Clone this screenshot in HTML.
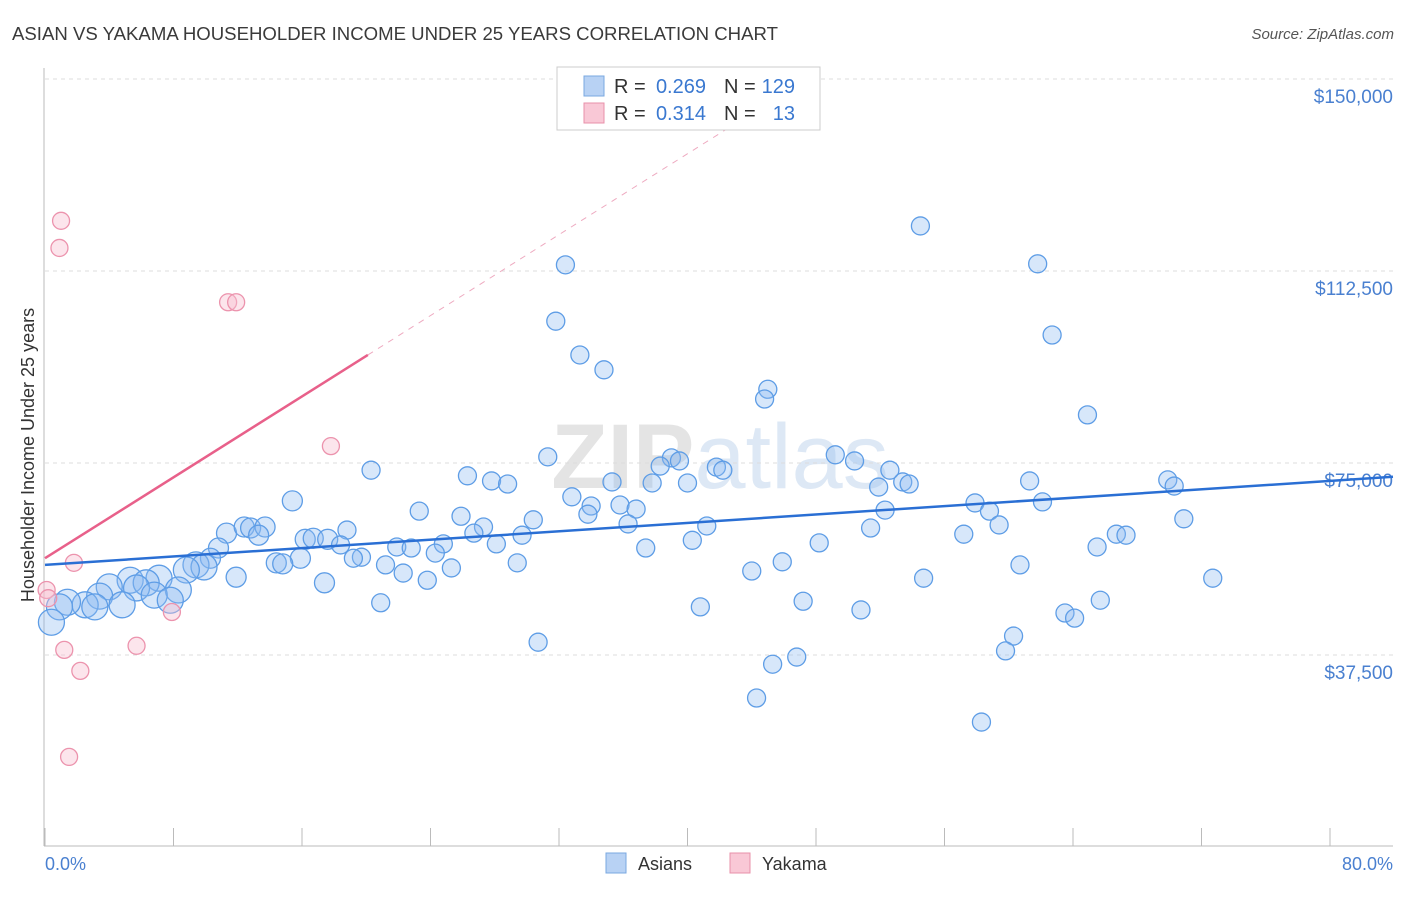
<!DOCTYPE html>
<html><head><meta charset="utf-8">
<style>
html,body{margin:0;padding:0;background:#fff;}
body{width:1406px;height:892px;overflow:hidden;font-family:"Liberation Sans",sans-serif;}
svg text{font-family:"Liberation Sans",sans-serif;}
</style></head>
<body>
<svg id="chart" width="1406" height="892" viewBox="0 0 1406 892">
<text x="12" y="40" font-size="18.6" fill="#3a3a3a">ASIAN VS YAKAMA HOUSEHOLDER INCOME UNDER 25 YEARS CORRELATION CHART</text>
<text x="1394" y="39" font-size="15" fill="#555" font-style="italic" text-anchor="end">Source: ZipAtlas.com</text>
<text x="720" y="488" font-size="92" fill="#e4e4e4" text-anchor="middle" font-weight="bold">ZIP<tspan fill="#dde8f5" font-weight="normal">atlas</tspan></text>
<g id="grid"></g>
<g id="marks"></g>
<g id="lines"></g>
<text transform="translate(34,455) rotate(-90)" font-size="18" fill="#333" text-anchor="middle">Householder Income Under 25 years</text>
<text x="45" y="870" font-size="18" fill="#4a80d0">0.0%</text>
<text x="1393" y="870" font-size="18" fill="#4a80d0" text-anchor="end">80.0%</text>
<g>
<rect x="557" y="67" width="263" height="63" fill="#fff" stroke="#ccc"/>
<rect x="584" y="76" width="20" height="20" fill="#b8d2f4" stroke="#7aa8e0"/>
<text x="614" y="93" font-size="20" fill="#333">R =</text>
<text x="706" y="93" font-size="20" fill="#3a78d0" text-anchor="end">0.269</text>
<text x="724" y="93" font-size="20" fill="#333">N =</text>
<text x="795" y="93" font-size="20" fill="#3a78d0" text-anchor="end">129</text>
<rect x="584" y="103" width="20" height="20" fill="#f9c8d6" stroke="#e890aa"/>
<text x="614" y="120" font-size="20" fill="#333">R =</text>
<text x="706" y="120" font-size="20" fill="#3a78d0" text-anchor="end">0.314</text>
<text x="724" y="120" font-size="20" fill="#333">N =</text>
<text x="795" y="120" font-size="20" fill="#3a78d0" text-anchor="end">13</text>
</g>
<g>
<rect x="606" y="853" width="20" height="20" fill="#b8d2f4" stroke="#7aa8e0"/>
<text x="638" y="870" font-size="18" fill="#333">Asians</text>
<rect x="730" y="853" width="20" height="20" fill="#f9c8d6" stroke="#e890aa"/>
<text x="762" y="870" font-size="18" fill="#333">Yakama</text>
</g>
</svg>
<script>
const yTicks=[37500,75000,112500,150000];
const yTickLabels=["$37,500","$75,000","$112,500","$150,000"];
const xTicks=[0,8,16,24,32,40,48,56,64,72,80];
const asianX=[32.4,54.5,61.8,31.8,62.7,33.3,34.8,45.0,44.8,64.9,31.3,49.2,50.4,20.3,26.3,39.0,39.5,38.3,41.8,42.2,52.6,27.8,28.8,35.3,37.8,40.0,51.9,53.4,53.8,61.3,69.9,70.3,15.4,32.8,57.9,62.1,23.3,34.0,35.8,36.8,33.8,52.3,58.8,25.9,30.4,36.3,41.2,59.4,70.9,27.3,26.7,18.8,51.4,11.3,12.4,12.8,13.7,13.3,16.2,16.7,17.6,29.7,40.3,48.2,57.2,66.7,67.3,18.4,24.8,28.1,21.9,22.8,37.4,65.5,10.8,10.3,24.3,19.7,19.2,15.9,14.4,14.8,9.4,9.9,21.2,29.4,25.3,45.9,60.7,44.0,22.3,8.8,11.9,54.7,72.7,23.8,7.1,5.3,6.3,17.4,4.0,5.7,8.3,6.8,3.4,20.9,47.2,65.7,40.8,50.8,63.5,64.1,7.8,4.8,2.5,1.4,3.1,0.9,0.4,30.7,60.3,59.8,46.8,45.3,44.3,58.3];
const asianY=[113.7,121.3,113.9,102.7,100.0,96.1,93.2,89.4,87.5,84.4,76.2,76.6,75.4,73.6,72.5,76.0,75.4,74.4,74.2,73.6,73.6,71.5,70.9,71.3,71.1,71.1,70.3,71.3,70.9,71.5,71.7,70.5,67.6,68.4,67.2,67.4,65.6,66.6,66.8,66.0,65.0,65.8,65.6,64.6,63.9,63.1,62.7,62.9,64.1,62.5,61.3,61.9,62.3,61.3,62.5,62.3,62.5,60.9,60.1,60.3,60.1,60.9,59.9,59.4,61.1,61.1,60.9,59.0,59.2,59.2,58.6,58.4,58.4,58.6,58.4,56.4,57.4,56.6,56.4,56.4,55.5,55.3,55.1,54.7,55.1,55.5,54.5,55.7,55.1,53.9,53.5,54.1,52.7,52.5,52.5,52.1,52.5,52.1,51.6,51.6,50.8,50.6,50.2,49.2,49.0,47.7,48.0,48.2,46.9,46.3,45.7,44.7,48.2,47.3,47.3,47.8,46.9,46.9,43.9,40.0,41.2,38.3,37.1,35.7,29.1,24.4];
const yakX=[1.0,0.9,11.4,11.9,17.8,1.8,0.1,0.2,7.9,5.7,1.2,2.2,1.5];
const yakY=[122.3,117.0,106.4,106.4,78.3,55.5,50.2,48.6,45.9,39.3,38.5,34.4,17.6];
const asianTrend=[55.1,71.5];
const yakTrend=[56.4,1.975];
const NS="http://www.w3.org/2000/svg";
const xs=v=>45+v/80*1285;
const ys=k=>847-k*1000/37500*192;
function mk(tag,attrs,parent){const e=document.createElementNS(NS,tag);for(const k in attrs)e.setAttribute(k,attrs[k]);parent.appendChild(e);return e;}
const gridG=document.getElementById('grid'),marksG=document.getElementById('marks'),linesG=document.getElementById('lines');
yTicks.forEach((t,i)=>{
 const y=ys(t/1000);
 const l=mk('line',{x1:45,x2:1393,y1:y,y2:y,stroke:'#ddd','stroke-dasharray':'4,4'},gridG);
 
 
 const tx=mk('text',{x:1393,y:y+24,'font-size':19,fill:'#4a80d0','text-anchor':'end'},gridG);
 tx.textContent=yTickLabels[i];
 
 
});
const topLine=mk('line',{x1:45,x2:1393,y1:79,y2:79,stroke:'#ddd','stroke-dasharray':'4,4'},gridG);


const yAxis=mk('line',{x1:44,x2:44,y1:68,y2:846,stroke:'#bbb'},gridG);


const xAxis=mk('line',{x1:44,x2:1393,y1:846,y2:846,stroke:'#bbb'},gridG);


xTicks.forEach(t=>{
 const x=xs(t);
 const l=mk('line',{x1:x,x2:x,y1:828,y2:846,stroke:'#bbb'},gridG);
 
 
});
asianX.forEach((v,i)=>{
 const r=v<10?13:(v<18?10:9);
 const c=mk('circle',{cx:xs(v),cy:ys(asianY[i]),r:r,fill:'rgba(140,185,240,0.35)',stroke:'#5e9de6','stroke-width':1.3},marksG);
 
 
});
yakX.forEach((v,i)=>{
 const c=mk('circle',{cx:xs(v),cy:ys(yakY[i]),r:8.5,fill:'rgba(248,190,208,0.4)',stroke:'#ec93ad','stroke-width':1.3},marksG);
 
 
});
const bl=mk('line',{x1:xs(0),y1:ys(asianTrend[0]),x2:1393,y2:ys(asianTrend[0]+(asianTrend[1]-asianTrend[0])*(1393-45)/1285),stroke:'#2a6fd4','stroke-width':2.5},linesG);


const xEnd=20.1,xTop=(150-yakTrend[0])/yakTrend[1];
const pl=mk('line',{x1:xs(0),y1:ys(yakTrend[0]),x2:xs(xEnd),y2:ys(yakTrend[0]+yakTrend[1]*xEnd),stroke:'#e8608a','stroke-width':2.5},linesG);


const pd=mk('line',{x1:xs(xEnd),y1:ys(yakTrend[0]+yakTrend[1]*xEnd),x2:xs(xTop),y2:ys(150),stroke:'#eeaac0','stroke-width':1,'stroke-dasharray':'6,6'},linesG);


</script>
</body></html>
